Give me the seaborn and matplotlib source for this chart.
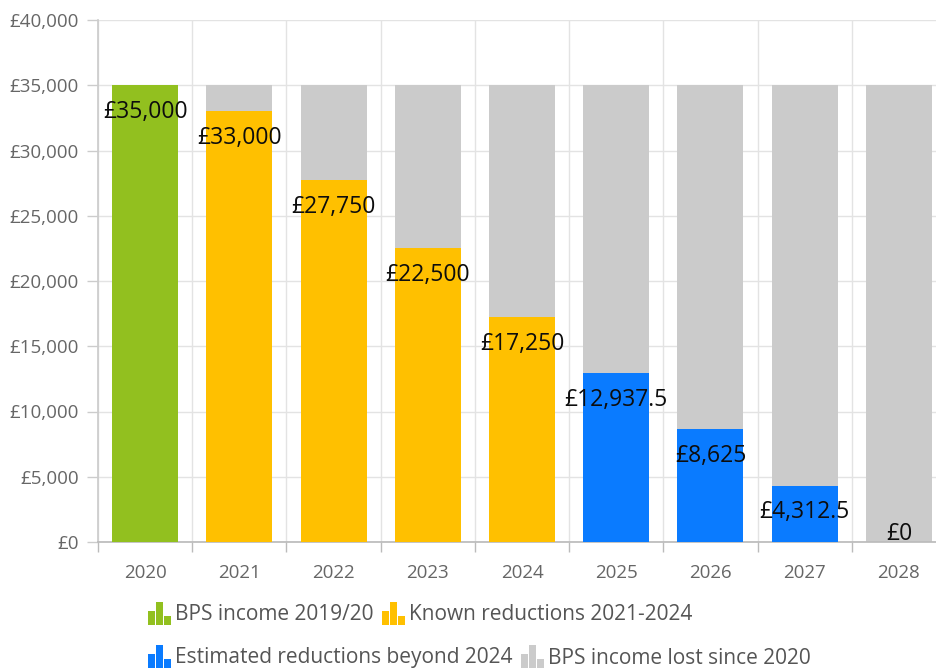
import matplotlib
matplotlib.use("Agg")
import matplotlib.pyplot as plt
import seaborn as sns
import pandas as pd
import numpy as np
from matplotlib.patches import Patch, Rectangle
from matplotlib.legend_handler import HandlerBase
from matplotlib.ticker import FixedLocator, FuncFormatter

# ---- data ----
years = ["2020", "2021", "2022", "2023", "2024", "2025", "2026", "2027", "2028"]
income = [35000, 33000, 27750, 22500, 17250, 12937.5, 8625, 4312.5, 0]
lost = [0, 2000, 7250, 12500, 17750, 22062.5, 26375, 30687.5, 35000]
series = ["BPS income 2019/20",
          "Known reductions 2021-2024", "Known reductions 2021-2024",
          "Known reductions 2021-2024", "Known reductions 2021-2024",
          "Estimated reductions beyond 2024", "Estimated reductions beyond 2024",
          "Estimated reductions beyond 2024", "Estimated reductions beyond 2024"]
lost_label = "BPS income lost since 2020"
y_ticks = [0, 5000, 10000, 15000, 20000, 25000, 30000, 35000, 40000]

colors = {
    "BPS income 2019/20": "#92C01F",
    "Known reductions 2021-2024": "#FFC000",
    "Estimated reductions beyond 2024": "#0A7BFF",
    lost_label: "#CBCBCB",
}

df = pd.DataFrame({"year": years, "income": income, "lost": lost, "series": series})
df["total"] = df["income"] + df["lost"]

sns.set_theme(style="white")
plt.rcParams["font.family"] = ["Open Sans", "DejaVu Sans"]

fig = plt.figure(figsize=(9.36, 6.70), dpi=100)
ax = fig.add_axes([98/936, 1 - 542/670, 848/936, 522/670])

# stacked: lost part (drawn as full total behind), then income
sns.barplot(data=df, x="year", y="total", color=colors[lost_label], width=0.7,
            saturation=1, ax=ax, linewidth=0, zorder=2)
sns.barplot(data=df, x="year", y="income", hue="series", palette=colors, dodge=False,
            width=0.7, saturation=1, ax=ax, linewidth=0, legend=False, zorder=3)

ax.set_xlim(-0.5, 8.5)
ax.set_ylim(0, 40000)
ax.set_xlabel("")
ax.set_ylabel("")

# ticks & grid
ax.yaxis.set_major_locator(FixedLocator(y_ticks))
ax.yaxis.set_major_formatter(FuncFormatter(lambda v, p: f"£{v:,.0f}"))
ax.xaxis.set_minor_locator(FixedLocator(np.arange(-0.5, 9.0, 1.0)))
ax.tick_params(axis="y", which="major", length=8, width=1, color="#CCCCCC",
               labelsize=13.5, labelcolor="#666666", pad=6, left=True)
ax.tick_params(axis="x", which="major", length=0, labelsize=13.5,
               labelcolor="#666666", pad=16)
ax.tick_params(axis="x", which="minor", length=7, width=1, color="#BBBBBB", bottom=True)
ax.grid(axis="y", which="major", color="#E3E3E3", linewidth=1, zorder=0)
ax.grid(axis="x", which="minor", color="#E3E3E3", linewidth=1, zorder=0)
ax.grid(axis="x", which="major", visible=False)
ax.set_axisbelow(True)
for s in ["top", "right"]:
    ax.spines[s].set_visible(False)
ax.spines["left"].set_color("#CCCCCC")
ax.spines["bottom"].set_color("#BBBBBB")

# data labels
for i, v in enumerate(income):
    txt = f"£{v:,.0f}" if float(v).is_integer() else f"£{v:,.1f}"
    y = max(v - 2050, 650)
    ax.text(i, y, txt, ha="center", va="center", fontsize=16.5, color="#0D0D0D", zorder=5)

# legend with bar-chart icons
class BarIcon(HandlerBase):
    def create_artists(self, legend, orig_handle, xdescent, ydescent, width, height,
                       fontsize, trans):
        c = orig_handle.get_facecolor()
        bw = width * 0.29
        gap = width * 0.06
        H = height * 1.6
        arts = []
        for i, h in enumerate([0.6, 1.0, 0.4]):
            arts.append(Rectangle((-xdescent + i * (bw + gap), -ydescent - height * 0.3),
                                  bw, H * h, facecolor=c, edgecolor="none",
                                  transform=trans))
        return arts

def make_legend(labels, ypos):
    handles = [Patch(facecolor=colors[l]) for l in labels]
    leg = fig.legend(handles, labels, loc="center left", bbox_to_anchor=(148/936, ypos),
                     ncol=2, frameon=False, borderpad=0, borderaxespad=0,
                     handlelength=1.1, handletextpad=0.2, columnspacing=0.4,
                     fontsize=15, labelcolor="#555555", handler_map={Patch: BarIcon()})
    return leg

make_legend(["BPS income 2019/20", "Known reductions 2021-2024"], 1 - 615/670)
make_legend(["Estimated reductions beyond 2024", lost_label], 1 - 658/670)

fig.savefig("out.png", dpi=100)
